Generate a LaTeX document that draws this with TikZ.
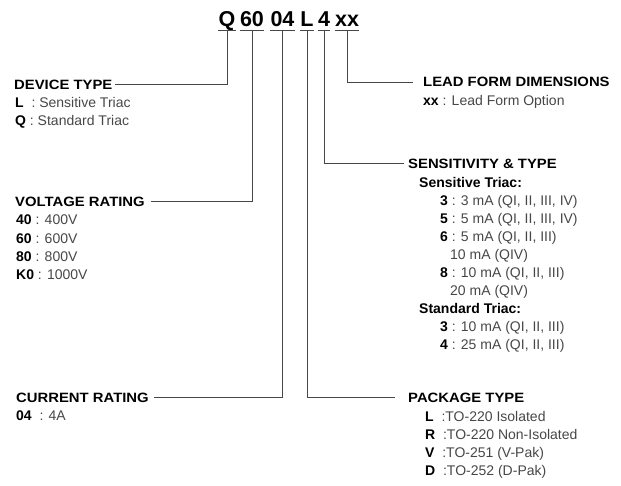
\documentclass[tikz,border=0pt]{standalone}
\usepackage{fontspec}
\setmainfont{Liberation Sans}
\newfontfamily\hdfont[FakeStretch=1.1]{Liberation Sans}
\usetikzlibrary{calc}
\tikzset{
  code/.style={font=\fontsize{21.5}{24}\selectfont\bfseries, inner sep=0pt, anchor=base},
  head/.style={font=\hdfont\fontsize{13.5}{16}\selectfont\bfseries, inner sep=0pt, anchor=base west},
  body/.style={font=\fontsize{14}{16}\selectfont, text=black!72, inner sep=0pt, anchor=base west},
  sub/.style={font=\fontsize{14}{16}\selectfont\bfseries, inner sep=0pt, anchor=base west},
  conn/.style={draw=black!72, line width=0.9pt},
}
\newcommand{\kk}[1]{\textcolor{black}{\textbf{#1}}}
\begin{document}
\begin{tikzpicture}[x=1pt,y=-1pt]
\useasboundingbox (0,0) rectangle (621,485);
% code
\node[code] (cq) at (227,26) {Q};
\node[code] (c60) at (252,26) {60};
\node[code] (c04) at (282.5,26) {04};
\node[code] (cl) at (307,26) {L};
\node[code] (c4) at (324,26) {4};
\node[code] (cxx) at (347,26) {xx};
\foreach \n in {cq,c60,c04,cl,c4,cxx}{
  \draw[conn] ($(\n.base west)+(0,4.5)$) -- ($(\n.base east)+(0,4.5)$);
  \coordinate (u\n) at ($(\n.base)+(0,4.5)$);
}
% left headers
\node[head] (dev) at (14,89.3) {DEVICE TYPE};
\node[body] (dev1) at (15,107) {\kk{L}~~: Sensitive Triac};
\node[body] (dev2) at (15,125) {\kk{Q} : Standard Triac};

\node[head] (volt) at (15,206.5) {VOLTAGE RATING};
\node[body] (v1) at (16,224.8) {\kk{40} : 400V};
\node[body] (v2) at (16,243.1) {\kk{60} : 600V};
\node[body] (v3) at (16,261.4) {\kk{80} : 800V};
\node[body] (v4) at (16,279.7) {\kk{K0} : 1000V};

\node[head] (cur) at (16,402.5) {CURRENT RATING};
\node[body] (cur1) at (16,420) {\kk{04}~~: 4A};

% right headers
\node[head] (lead) at (423,86.7) {LEAD FORM DIMENSIONS};
\node[body] (lead1) at (423,105) {\kk{xx} : Lead Form Option};

\node[head] (sens) at (408,168.3) {SENSITIVITY \& TYPE};
\node[sub] (st) at (419,187.5) {Sensitive Triac:};
\node[body] (s1) at (440,205.5) {\kk{3} : 3 mA (QI, II, III, IV)};
\node[body] (s2) at (440,223.5) {\kk{5} : 5 mA (QI, II, III, IV)};
\node[body] (s3) at (440,241.5) {\kk{6} : 5 mA (QI, II, III)};
\node[body] (s3b) at (450,259.5) {10 mA (QIV)};
\node[body] (s4) at (440,277.5) {\kk{8} : 10 mA (QI, II, III)};
\node[body] (s4b) at (450,295.5) {20 mA (QIV)};
\node[sub] (std) at (419,313.5) {Standard Triac:};
\node[body] (s5) at (440,331.5) {\kk{3} : 10 mA (QI, II, III)};
\node[body] (s6) at (440,349.5) {\kk{4} : 25 mA (QI, II, III)};

\node[head] (pkg) at (408,402.5) {PACKAGE TYPE};
\node[body] (p1) at (425,421) {\kk{L}~~:TO-220 Isolated};
\node[body] (p2) at (425,439) {\kk{R}~~:TO-220 Non-Isolated};
\node[body] (p3) at (425,457) {\kk{V}~~:TO-251 (V-Pak)};
\node[body] (p4) at (425,475) {\kk{D}~~:TO-252 (D-Pak)};

% connectors
\draw[conn] (ucq) |- ([xshift=2pt]dev.east);
\draw[conn] (uc60) |- ([xshift=6pt]volt.east);
\draw[conn] (uc04) |- ([xshift=5pt]cur.east);
\draw[conn] (ucl) |- ([xshift=-13pt]pkg.west);
\draw[conn] (uc4) |- ([xshift=-4pt]sens.west);
\draw[conn] (ucxx) |- ([xshift=-10pt]lead.west);
\end{tikzpicture}
\end{document}
